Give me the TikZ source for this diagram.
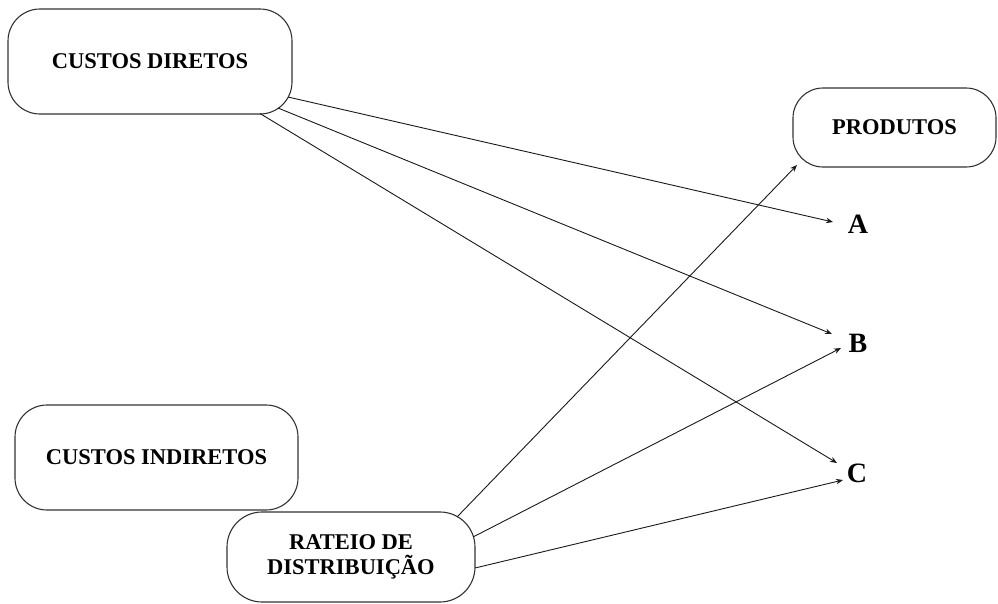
\documentclass[tikz,border=0pt]{standalone}
\usepackage{fontspec}
\setmainfont{Liberation Serif}
\usetikzlibrary{arrows.meta,calc}

\tikzset{
  costbox/.style={draw=black!80, line width=1.1pt, fill=white, align=center,
    inner sep=0pt, font=\fontsize{22.5}{25}\selectfont\bfseries},
  letter/.style={inner sep=0pt, font=\fontsize{28}{30}\selectfont\bfseries},
  flow/.style={draw=black!90, line width=0.9pt, -{Stealth[length=7pt,width=5.5pt]}}
}

\begin{document}
\begin{tikzpicture}[x=1pt,y=-1pt]
  \useasboundingbox (0,0) rectangle (998,603);

  % cost boxes
  \node[costbox, minimum width=284pt, minimum height=105pt, rounded corners=32pt]
    (cd) at (150,61.5) {CUSTOS DIRETOS};
  \node[costbox, minimum width=283pt, minimum height=105pt, rounded corners=32pt]
    (ci) at (156.5,457.5) {CUSTOS INDIRETOS};
  \node[costbox, minimum width=203pt, minimum height=79pt, rounded corners=30pt]
    (pr) at (894.5,127.5) {PRODUTOS};
  \node[costbox, minimum width=248pt, minimum height=90pt, rounded corners=35pt]
    (ra) at (351,557) {RATEIO DE\\DISTRIBUIÇÃO};

  % products
  \node[letter] (A) at (858,224) {A};
  \node[letter] (B) at (858,343) {B};
  \node[letter] (C) at (857,473) {C};

  % direct costs go straight to each product
  \draw[flow] ($(cd.center)+(138,35.5)$) -- ($(A.center)+(-25,-2)$);
  \draw[flow] ($(cd.center)+(128,46.5)$) -- ($(B.center)+(-26,-9)$);
  \draw[flow] ($(cd.center)+(110,52)$) -- ($(C.center)+(-20,-10)$);

  % indirect costs reach the products through allocation
  \draw[flow] ($(ra.center)+(106,-40)$) -- ($(pr.center)+(-97.5,37.5)$);
  \draw[flow] ($(ra.center)+(122,-20)$) -- ($(B.center)+(-17,5)$);
  \draw[flow] ($(ra.center)+(124,11)$) -- ($(C.center)+(-14,7)$);
\end{tikzpicture}
\end{document}
